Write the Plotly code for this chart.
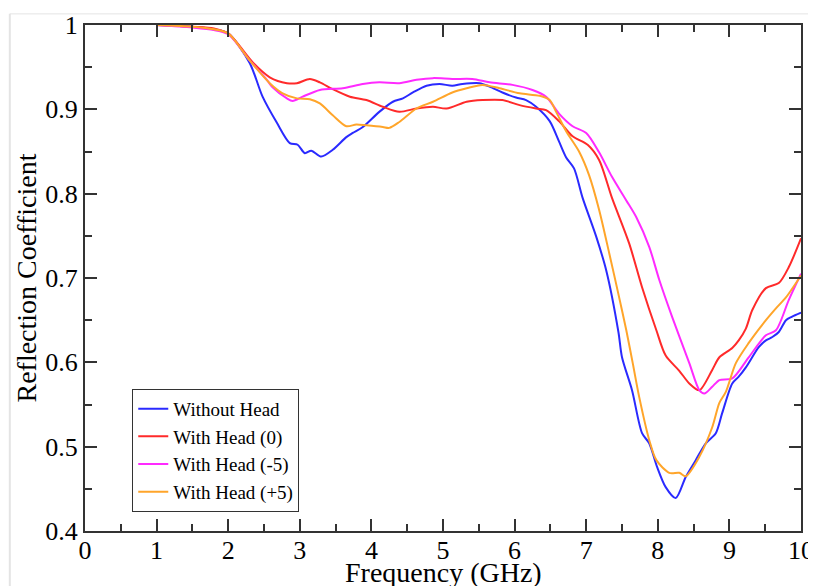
import plotly.graph_objects as go

# ---- data ----
blue_x = [1.0, 1.5, 1.8, 2.0, 2.3, 2.48, 2.68, 2.86, 2.97, 3.07, 3.16, 3.30, 3.46, 3.65, 3.74, 3.88,
          4.11, 4.30, 4.44, 4.58, 4.77, 4.95, 5.13, 5.27, 5.51, 5.65, 5.83, 6.02, 6.16, 6.30, 6.49,
          6.62, 6.72, 6.83, 6.95, 7.14, 7.28, 7.45, 7.50, 7.64, 7.78, 7.88, 7.99, 8.11, 8.25, 8.39,
          8.53, 8.67, 8.81, 8.90, 9.04, 9.13, 9.23, 9.41, 9.51, 9.60, 9.69, 9.79, 9.87, 10.0]
blue_y = [1.0, 0.998, 0.995, 0.99, 0.955, 0.915, 0.884, 0.860, 0.858, 0.848, 0.851, 0.844, 0.852,
          0.867, 0.872, 0.879, 0.897, 0.909, 0.913, 0.920, 0.928, 0.930, 0.928, 0.930, 0.931, 0.927,
          0.920, 0.914, 0.911, 0.903, 0.886, 0.862, 0.843, 0.830, 0.795, 0.749, 0.709, 0.636, 0.606,
          0.567, 0.516, 0.504, 0.476, 0.452, 0.439, 0.464, 0.484, 0.504, 0.516, 0.540, 0.575, 0.583,
          0.594, 0.618, 0.626, 0.630, 0.636, 0.650, 0.654, 0.659]

red_x = [1.0, 1.5, 1.8, 2.0, 2.35, 2.58, 2.82, 2.96, 3.14, 3.28, 3.46, 3.70, 3.93, 4.16, 4.39, 4.63,
         4.86, 5.05, 5.33, 5.55, 5.83, 6.07, 6.30, 6.44, 6.62, 6.81, 7.02, 7.18, 7.36, 7.60, 7.78,
         7.98, 8.11, 8.30, 8.44, 8.58, 8.76, 8.86, 9.04, 9.13, 9.23, 9.32, 9.51, 9.69, 9.83, 10.0]
red_y = [1.0, 0.998, 0.996, 0.99, 0.955, 0.938, 0.931, 0.931, 0.936, 0.932, 0.924, 0.915, 0.911,
         0.903, 0.897, 0.901, 0.903, 0.901, 0.909, 0.911, 0.911, 0.905, 0.901, 0.899, 0.886, 0.868,
         0.858, 0.840, 0.795, 0.741, 0.689, 0.638, 0.608, 0.590, 0.575, 0.567, 0.591, 0.606, 0.617,
         0.626, 0.640, 0.662, 0.688, 0.694, 0.713, 0.747]

mag_x = [1.0, 1.5, 1.8, 2.0, 2.3, 2.54, 2.62, 2.82, 2.90, 3.04, 3.28, 3.60, 3.88, 4.11, 4.39, 4.63,
         4.86, 5.13, 5.41, 5.65, 5.97, 6.25, 6.44, 6.62, 6.81, 7.0, 7.18, 7.36, 7.56, 7.70, 7.88,
         8.02, 8.20, 8.44, 8.58, 8.65, 8.76, 8.86, 9.04, 9.27, 9.51, 9.65, 9.83, 10.0]
mag_y = [1.0, 0.997, 0.994, 0.989, 0.958, 0.935, 0.926, 0.913, 0.910, 0.915, 0.923, 0.925, 0.930,
         0.932, 0.931, 0.935, 0.937, 0.936, 0.936, 0.932, 0.929, 0.923, 0.915, 0.895, 0.880, 0.872,
         0.849, 0.820, 0.792, 0.772, 0.737, 0.698, 0.654, 0.599, 0.567, 0.563, 0.571, 0.579, 0.581,
         0.606, 0.632, 0.638, 0.674, 0.705]

org_x = [1.0, 1.5, 1.8, 2.0, 2.3, 2.58, 2.76, 2.96, 3.14, 3.28, 3.46, 3.65, 3.79, 3.93, 4.16, 4.25,
         4.39, 4.63, 4.86, 5.13, 5.33, 5.55, 5.79, 6.07, 6.35, 6.49, 6.58, 6.72, 6.90, 7.04, 7.18,
         7.32, 7.46, 7.56, 7.65, 7.74, 7.88, 7.98, 8.16, 8.30, 8.39, 8.58, 8.76, 8.86, 8.95, 9.09,
         9.27, 9.51, 9.65, 9.79, 10.0]
org_y = [1.0, 0.998, 0.995, 0.99, 0.958, 0.931, 0.919, 0.913, 0.912, 0.907, 0.893, 0.880, 0.882,
         0.881, 0.879, 0.878, 0.885, 0.901, 0.909, 0.920, 0.925, 0.929, 0.925, 0.919, 0.916, 0.911,
         0.897, 0.874, 0.850, 0.822, 0.781, 0.730, 0.677, 0.638, 0.599, 0.559, 0.508, 0.484, 0.469,
         0.469, 0.465, 0.488, 0.523, 0.552, 0.565, 0.599, 0.623, 0.650, 0.664, 0.677, 0.703]

names = ["Without Head", "With Head (0)", "With Head (-5)", "With Head (+5)"]
colors = ["#2a2aff", "#ff2a2a", "#ff2aff", "#ffa52a"]
series = [(blue_x, blue_y), (red_x, red_y), (mag_x, mag_y), (org_x, org_y)]

x_tickvals = [0, 1, 2, 3, 4, 5, 6, 7, 8, 9, 10]
x_ticktext = ["0", "1", "2", "3", "4", "5", "6", "7", "8", "9", "10"]
y_tickvals = [0.4, 0.5, 0.6, 0.7, 0.8, 0.9, 1.0]
y_ticktext = ["0.4", "0.5", "0.6", "0.7", "0.8", "0.9", "1"]
x_title = "Frequency (GHz)"
y_title = "Reflection Coefficient"

SERIF = "Liberation Serif"
AX = "#333333"

fig = go.Figure()
for (xs, ys), n, c in zip(series, names, colors):
    fig.add_trace(go.Scatter(x=xs, y=ys, name=n, mode="lines",
                             line=dict(color=c, width=2, shape="spline", smoothing=0.8)))

axis_common = dict(
    showline=True, linecolor=AX, linewidth=2, mirror="allticks",
    ticks="inside", ticklen=12, tickwidth=1.5, tickcolor=AX,
    showgrid=False, zeroline=False,
    tickfont=dict(family=SERIF, size=26, color="black"),
)

fig.update_xaxes(range=[0, 10], tickvals=x_tickvals, ticktext=x_ticktext,
                 minor=dict(tickvals=[v + 0.5 for v in x_tickvals[:-1]], ticks="inside",
                            ticklen=7, tickwidth=1.5, tickcolor=AX),
                 ticklabelstandoff=-5,
                 automargin=False, **axis_common)
fig.update_yaxes(range=[0.4, 1.0], tickvals=y_tickvals, ticktext=y_ticktext,
                 minor=dict(tickvals=[v + 0.05 for v in y_tickvals[:-1]], ticks="inside",
                            ticklen=7, tickwidth=1.5, tickcolor=AX),
                 title=dict(text=y_title, font=dict(family=SERIF, size=28, color="black"),
                            standoff=0),
                 automargin=False, **axis_common)

# the page adds an 8px body margin, so the figure is 8px smaller and margins offset
fig.update_layout(
    width=808, height=578,
    margin=dict(l=77, r=15, t=17, b=55),
    paper_bgcolor="white", plot_bgcolor="white",
    showlegend=True,
    legend=dict(x=0.066, y=0.281, xanchor="left", yanchor="top",
                bgcolor="white", bordercolor=AX, borderwidth=1,
                font=dict(family=SERIF, size=19, color="black"),
                itemwidth=30, tracegroupgap=0),
    annotations=[
        dict(text=x_title, xref="paper", yref="paper", x=0.5, y=-0.048,
             xanchor="center", yanchor="top", showarrow=False,
             font=dict(family=SERIF, size=28, color="black")),
    ],
    shapes=[
        dict(type="line", xref="paper", yref="paper", x0=-0.105, x1=1.03, y0=1.022, y1=1.022,
             line=dict(color="#e4e4e4", width=1), layer="below"),
        dict(type="line", xref="paper", yref="paper", x0=-0.105, x1=-0.105, y0=1.022, y1=-0.12,
             line=dict(color="#e4e4e4", width=2), layer="below"),
    ],
)

fig.write_html("out.html")
